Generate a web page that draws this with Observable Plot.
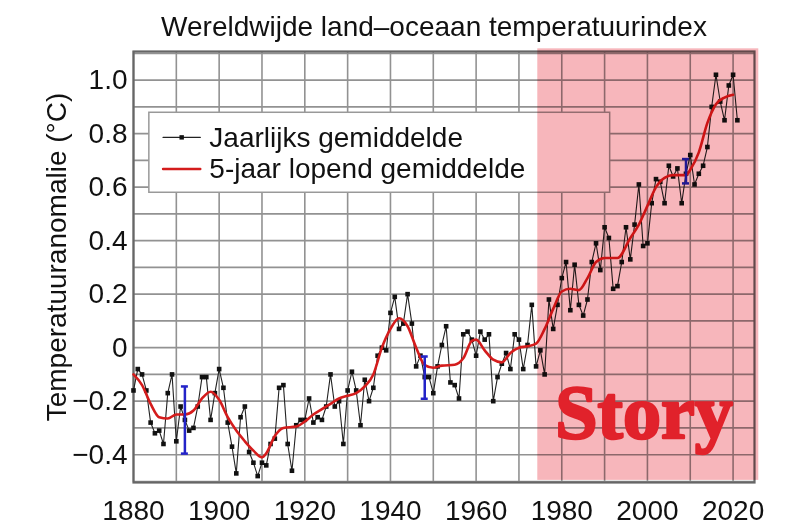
<!DOCTYPE html>
<html>
<head>
<meta charset="utf-8">
<script src="https://cdn.jsdelivr.net/npm/d3@7"></script>
<script src="https://cdn.jsdelivr.net/npm/@observablehq/plot@0.6"></script>
<style>
  html, body { margin: 0; padding: 0; background: #fff; }
  #chart { width: 800px; height: 532px; }
</style>
</head>
<body>
<div id="chart"></div>
<script>
// ---- Data ----
const titleText = "Wereldwijde land–oceaan temperatuurindex";
const yLabelText = "Temperatuuranomalie (°C)";
const legendLabels = ["Jaarlijks gemiddelde", "5-jaar lopend gemiddelde"];
const stampText = "Story";

const firstYear = 1880;
const annualValues = [
  -0.16, -0.08, -0.10, -0.16, -0.28, -0.32, -0.31, -0.36, -0.17, -0.10,
  -0.35, -0.22, -0.27, -0.31, -0.30, -0.22, -0.11, -0.11, -0.27, -0.17,
  -0.08, -0.15, -0.28, -0.37, -0.47, -0.26, -0.22, -0.39, -0.43, -0.48,
  -0.43, -0.44, -0.36, -0.34, -0.15, -0.14, -0.36, -0.46, -0.29, -0.27,
  -0.27, -0.19, -0.28, -0.26, -0.27, -0.22, -0.10, -0.22, -0.20, -0.36,
  -0.16, -0.09, -0.16, -0.29, -0.12, -0.20, -0.15, -0.03, 0.00, -0.01,
  0.13, 0.19, 0.07, 0.09, 0.20, 0.09, -0.07, -0.03, -0.11, -0.11,
  -0.17, -0.07, 0.01, 0.08, -0.13, -0.14, -0.19, 0.05, 0.06, 0.03,
  -0.03, 0.06, 0.03, 0.05, -0.20, -0.11, -0.06, -0.02, -0.08, 0.05,
  0.03, -0.08, 0.01, 0.16, -0.07, -0.01, -0.10, 0.18, 0.07, 0.16,
  0.26, 0.32, 0.14, 0.31, 0.16, 0.12, 0.18, 0.32, 0.39, 0.29,
  0.45, 0.41, 0.22, 0.23, 0.32, 0.45, 0.33, 0.46, 0.61, 0.38,
  0.39, 0.54, 0.63, 0.62, 0.54, 0.68, 0.64, 0.67, 0.54, 0.65,
  0.72, 0.61, 0.65, 0.68, 0.75, 0.90, 1.02, 0.92, 0.85, 0.98,
  1.02, 0.85
];

const smoothYears = [
  1880, 1882, 1884, 1886, 1888, 1890, 1892, 1894, 1896, 1898,
  1900, 1902, 1904, 1906, 1908, 1910, 1911, 1913, 1915, 1918,
  1920, 1922, 1924, 1926, 1928, 1930, 1932, 1934, 1936, 1938,
  1940, 1942, 1944, 1946, 1948, 1950, 1952, 1955, 1957, 1959,
  1960, 1962, 1964, 1966, 1968, 1970, 1972, 1974, 1976, 1978,
  1980, 1982, 1984, 1986, 1988, 1990, 1993, 1996, 1998, 2000,
  2002, 2004, 2006, 2009, 2010, 2012, 2014, 2016, 2018, 2020
];
const smoothValues = [
  -0.10, -0.14, -0.21, -0.26, -0.265, -0.25, -0.25, -0.235, -0.19, -0.165,
  -0.195, -0.26, -0.31, -0.35, -0.385, -0.41, -0.395, -0.33, -0.30, -0.295,
  -0.276, -0.25, -0.23, -0.21, -0.19, -0.18, -0.17, -0.145, -0.10, 0.00,
  0.07, 0.11, 0.08, 0.00, -0.065, -0.075, -0.067, -0.064, -0.04, 0.025,
  0.03, -0.01, -0.045, -0.055, -0.02, 0.00, 0.005, 0.015, 0.07, 0.145,
  0.21, 0.22, 0.215, 0.26, 0.32, 0.335, 0.335, 0.41, 0.46, 0.53,
  0.60, 0.635, 0.645, 0.645, 0.665, 0.73, 0.84, 0.91, 0.935, 0.945
];

const errorYears = [1892, 1948, 2009];
const errorLow = [-0.396, -0.191, 0.614];
const errorHigh = [-0.145, -0.033, 0.705];

const xTicks = [1880, 1900, 1920, 1940, 1960, 1980, 2000, 2020];
const yTicks = [-0.4, -0.2, 0, 0.2, 0.4, 0.6, 0.8, 1.0];
const xGrid = [1880, 1890, 1900, 1910, 1920, 1930, 1940, 1950, 1960, 1970, 1980, 1990, 2000, 2010, 2020];
const yGrid = [-0.5, -0.4, -0.3, -0.2, -0.1, 0, 0.1, 0.2, 0.3, 0.4, 0.5, 0.6, 0.7, 0.8, 0.9, 1.0, 1.1];

// highlighted period (pink band)
const bandStart = 1974.4;
const bandEnd = 2026;

// ---- Build tables ----
const annual = annualValues.map((v, i) => ({year: firstYear + i, value: v}));
const smooth = smoothYears.map((y, i) => ({year: y, value: smoothValues[i]}));
const errors = errorYears.map((y, i) => ({year: y, lo: errorLow[i], hi: errorHigh[i]}));

// ---- Layout (positions in chart units) ----
const LG = {x1: 1883.7, x2: 1991.3, y1: 0.579, y2: 0.878,
            lx1: 1886.9, lx2: 1895.6, tx: 1897.7,
            rows: [0.786, 0.668], base: [0.751, 0.635]};
const band = [{x1: bandStart, x2: bandEnd, y1: -0.496, y2: 1.117}];

const blue = "#2323c8";
const red = "#d41c1c";
const fontFamily = "'Liberation Sans', Arial, Helvetica, sans-serif";

const legendRows = legendLabels.map((t, i) => ({label: t, y: LG.rows[i], base: LG.base[i]}));
const legendLineData = legendRows.flatMap((r, i) => [
  {x: LG.lx1, y: r.y, k: i}, {x: LG.lx2, y: r.y, k: i}
]);

const chart = Plot.plot({
  width: 800,
  height: 532,
  marginLeft: 133,
  marginRight: 46,
  marginTop: 51,
  marginBottom: 50,
  style: {fontFamily, fontSize: "28px", background: "white", color: "#111"},
  x: {domain: [1880, 2025], ticks: xTicks, tickFormat: d => String(d), tickSize: 0, tickPadding: 18, label: null},
  y: {domain: [-0.504, 1.107], ticks: yTicks,
      tickFormat: d => d === 0 ? "0" : d.toFixed(1).replace("-", "\u2212"),
      tickSize: 0, tickPadding: 6, label: null},
  marks: [
    Plot.ruleX(xGrid, {stroke: "#929292", strokeWidth: 1.6}),
    Plot.ruleY(yGrid, {stroke: "#929292", strokeWidth: 1.6}),
    Plot.frame({stroke: "#666", strokeWidth: 2.2}),
    // legend
    Plot.rect([LG], {x1: "x1", x2: "x2", y1: "y1", y2: "y2", fill: "white", stroke: "#999", strokeWidth: 1.5}),
    Plot.line(legendLineData.filter(d => d.k === 0), {x: "x", y: "y", stroke: "#222", strokeWidth: 1.2}),
    Plot.dot([{x: (LG.lx1 + LG.lx2) / 2, y: LG.rows[0]}], {x: "x", y: "y", symbol: "square", r: 2.5, fill: "#111"}),
    Plot.line(legendLineData.filter(d => d.k === 1), {x: "x", y: "y", stroke: red, strokeWidth: 2.4}),
    Plot.text(legendRows, {x: () => LG.tx, y: "base", text: "label", textAnchor: "start", lineAnchor: "bottom", fontSize: 28, fill: "#111"}),
    // data
    Plot.line(annual, {x: "year", y: "value", stroke: "#222", strokeWidth: 1.1}),
    Plot.dot(annual, {x: "year", y: "value", symbol: "square", r: 2.6, fill: "#111"}),
    Plot.line(smooth, {x: "year", y: "value", stroke: red, strokeWidth: 2.6, curve: "monotone-x"}),
    Plot.ruleX(errors, {x: "year", y1: "lo", y2: "hi", stroke: blue, strokeWidth: 2.5}),
    Plot.ruleY(errors, {y: "lo", x1: "year", x2: "year", insetLeft: -3.5, insetRight: -3.5, stroke: blue, strokeWidth: 2.5}),
    Plot.ruleY(errors, {y: "hi", x1: "year", x2: "year", insetLeft: -3.5, insetRight: -3.5, stroke: blue, strokeWidth: 2.5}),
    // highlighted band
    Plot.rect(band, {x1: "x1", x2: "x2", y1: "y1", y2: "y2", fill: "#f7b6bb", mixBlendMode: "multiply"}),
    // stamp
    Plot.text([stampText], {x: () => 1999.2, y: () => -0.339, text: d => d, textAnchor: "middle", lineAnchor: "bottom",
      fontSize: 76, fontWeight: "bold", fontFamily: "'Liberation Serif', 'DejaVu Serif', serif",
      fill: "#e1222b", stroke: "#e1222b", strokeWidth: 2.5}),
    // title and y label
    Plot.text([titleText], {frameAnchor: "top", dx: -10, dy: -16, text: d => d, textAnchor: "middle", lineAnchor: "bottom", fontSize: 28, fill: "#111"}),
    Plot.text([yLabelText], {frameAnchor: "left", rotate: -90, dx: -76, dy: -10, text: d => d, textAnchor: "middle", lineAnchor: "middle", fontSize: 28, fill: "#111"})
  ]
});

document.getElementById("chart").appendChild(chart);
</script>
</body>
</html>
